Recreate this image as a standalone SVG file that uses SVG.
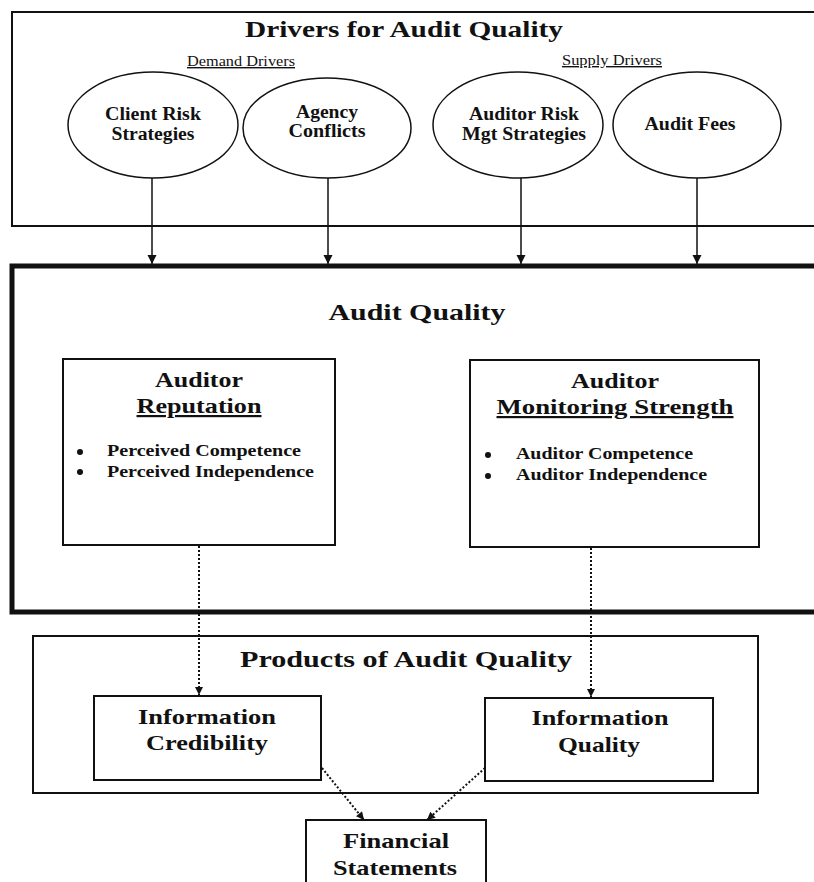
<svg xmlns="http://www.w3.org/2000/svg" width="814" height="882" viewBox="0 0 814 882">
<style>
text{font-family:"Liberation Serif","Times New Roman",serif;fill:#111;font-weight:bold;text-anchor:middle}
.small{font-weight:normal;font-size:14px;text-decoration:underline}
.t1{font-size:24px}
.el{font-size:18px}
.hd{font-size:22px}
.bl{font-size:17px;text-anchor:start}
.lb{font-size:21px}
.u{text-decoration:underline}
.box{fill:#fff;stroke:#111;stroke-width:2}
.ell{fill:#fff;stroke:#111;stroke-width:1.5}
.solid{stroke:#111;stroke-width:1.5;fill:none}
.dot{stroke:#111;stroke-width:2;fill:none;stroke-dasharray:2 2}
</style>
<defs>
<marker id="ah" viewBox="0 0 10 10" refX="10" refY="5" markerWidth="9" markerHeight="10" markerUnits="userSpaceOnUse" orient="auto">
<path d="M0,0 L10,5 L0,10 z" fill="#111"/>
</marker>
<marker id="ahd" viewBox="0 0 10 10" refX="10" refY="5" markerWidth="9" markerHeight="8" markerUnits="userSpaceOnUse" orient="auto">
<path d="M0,0 L10,5 L0,10 z" fill="#111"/>
</marker>
</defs>
<rect width="814" height="882" fill="#fff"/>

<g id="drivers">
<rect class="box" x="12" y="12" width="815" height="214"/>
<text class="t1" x="404" y="37" textLength="318" lengthAdjust="spacingAndGlyphs">Drivers for Audit Quality</text>
<text class="small" x="241" y="66" textLength="108" lengthAdjust="spacingAndGlyphs">Demand Drivers</text>
<text class="small" x="612" y="65" textLength="100" lengthAdjust="spacingAndGlyphs">Supply Drivers</text>
</g>

<g id="client-risk">
<ellipse class="ell" cx="153" cy="125" rx="85" ry="53"/>
<text class="el" x="153" y="120" textLength="96" lengthAdjust="spacingAndGlyphs">Client Risk</text>
<text class="el" x="153" y="140" textLength="83" lengthAdjust="spacingAndGlyphs">Strategies</text>
</g>
<g id="agency">
<ellipse class="ell" cx="327" cy="128" rx="84" ry="50"/>
<text class="el" x="327" y="118" textLength="62" lengthAdjust="spacingAndGlyphs">Agency</text>
<text class="el" x="327" y="137" textLength="77" lengthAdjust="spacingAndGlyphs">Conflicts</text>
</g>
<g id="auditor-risk">
<ellipse class="ell" cx="518" cy="125" rx="85" ry="53"/>
<text class="el" x="524" y="120" textLength="110" lengthAdjust="spacingAndGlyphs">Auditor Risk</text>
<text class="el" x="524" y="140" textLength="124" lengthAdjust="spacingAndGlyphs">Mgt Strategies</text>
</g>
<g id="audit-fees">
<ellipse class="ell" cx="697" cy="125" rx="84" ry="53"/>
<text class="el" x="690" y="130" textLength="91" lengthAdjust="spacingAndGlyphs">Audit Fees</text>
</g>

<g id="audit-quality">
<rect x="12" y="266" width="820" height="346" fill="none" stroke="#111" stroke-width="5"/>
<text class="t1" x="417" y="320" textLength="177" lengthAdjust="spacingAndGlyphs">Audit Quality</text>
</g>

<g id="reputation">
<rect class="box" x="63" y="359" width="272" height="186"/>
<text class="hd" x="199" y="387" textLength="88" lengthAdjust="spacingAndGlyphs">Auditor</text>
<text class="hd u" x="199" y="413" textLength="125" lengthAdjust="spacingAndGlyphs">Reputation</text>
<circle cx="80" cy="452" r="3" fill="#111"/>
<circle cx="80" cy="472" r="3" fill="#111"/>
<text class="bl" x="107" y="456" textLength="194" lengthAdjust="spacingAndGlyphs">Perceived Competence</text>
<text class="bl" x="107" y="477" textLength="207" lengthAdjust="spacingAndGlyphs">Perceived Independence</text>
</g>

<g id="monitoring">
<rect class="box" x="470" y="360" width="289" height="187"/>
<text class="hd" x="615" y="388" textLength="88" lengthAdjust="spacingAndGlyphs">Auditor</text>
<text class="hd u" x="615" y="414" textLength="237" lengthAdjust="spacingAndGlyphs">Monitoring Strength</text>
<circle cx="488" cy="455" r="3" fill="#111"/>
<circle cx="488" cy="476" r="3" fill="#111"/>
<text class="bl" x="516" y="459" textLength="177" lengthAdjust="spacingAndGlyphs">Auditor Competence</text>
<text class="bl" x="516" y="480" textLength="191" lengthAdjust="spacingAndGlyphs">Auditor Independence</text>
</g>

<g id="products">
<rect class="box" x="33" y="636" width="725" height="157"/>
<text class="t1" x="406" y="667" font-size="25" textLength="332" lengthAdjust="spacingAndGlyphs">Products of Audit Quality</text>
</g>

<g id="credibility">
<rect class="box" x="94" y="696" width="227" height="84"/>
<text class="lb" x="207" y="724" textLength="138" lengthAdjust="spacingAndGlyphs">Information</text>
<text class="lb" x="207" y="750" textLength="122" lengthAdjust="spacingAndGlyphs">Credibility</text>
</g>

<g id="info-quality">
<rect class="box" x="485" y="698" width="228" height="83"/>
<text class="lb" x="600" y="725" textLength="137" lengthAdjust="spacingAndGlyphs">Information</text>
<text class="lb" x="599" y="752" textLength="82" lengthAdjust="spacingAndGlyphs">Quality</text>
</g>

<g id="financial">
<rect class="box" x="306" y="820" width="180" height="80"/>
<text class="lb" x="396" y="848" textLength="106" lengthAdjust="spacingAndGlyphs">Financial</text>
<text class="lb" x="395" y="875" textLength="124" lengthAdjust="spacingAndGlyphs">Statements</text>
</g>

<g id="connectors">
<line class="solid" x1="152" y1="178" x2="152" y2="264" marker-end="url(#ah)"/>
<line class="solid" x1="328" y1="178" x2="328" y2="264" marker-end="url(#ah)"/>
<line class="solid" x1="521" y1="178" x2="521" y2="264" marker-end="url(#ah)"/>
<line class="solid" x1="697" y1="178" x2="697" y2="264" marker-end="url(#ah)"/>
<line class="dot" x1="199" y1="546" x2="199" y2="695" marker-end="url(#ahd)"/>
<line class="dot" x1="591" y1="548" x2="591" y2="697" marker-end="url(#ahd)"/>
<line class="dot" x1="322" y1="768" x2="364" y2="820" marker-end="url(#ahd)"/>
<line class="dot" x1="485" y1="768" x2="427" y2="820" marker-end="url(#ahd)"/>
</g>
</svg>
